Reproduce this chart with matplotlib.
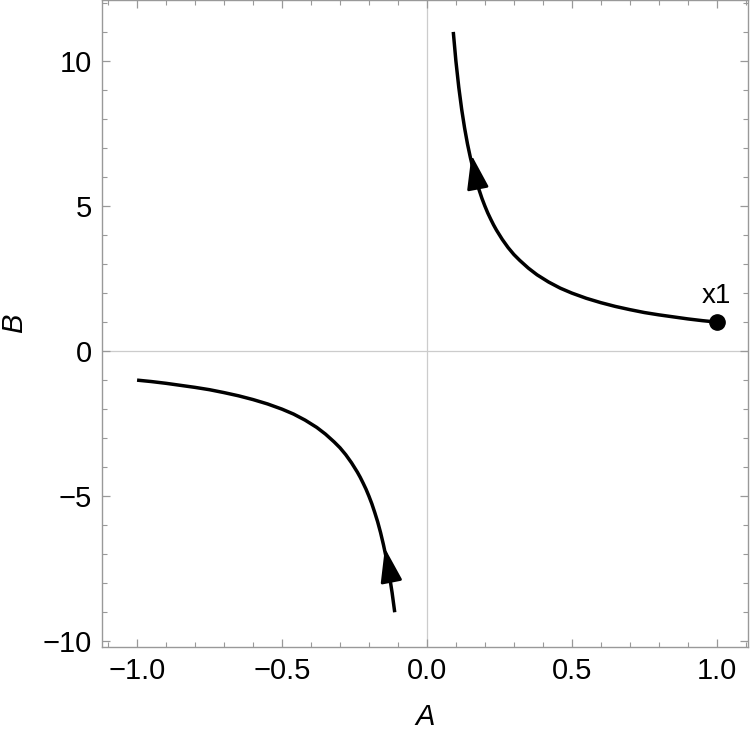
import matplotlib
matplotlib.use("Agg")
import matplotlib.pyplot as plt
from matplotlib.ticker import MultipleLocator, FuncFormatter

plt.rcParams['font.family'] = ['Liberation Sans', 'DejaVu Sans']

# Upper branch
upper_A = [1.0, 0.95, 0.9, 0.85, 0.8, 0.75, 0.7, 0.65, 0.6, 0.55, 0.5, 0.46, 0.42, 0.38,
           0.35, 0.32, 0.3, 0.28, 0.26, 0.24, 0.23, 0.22, 0.21, 0.2, 0.19, 0.18, 0.17,
           0.16, 0.15, 0.14, 0.13, 0.12, 0.11, 0.1, 0.091]
upper_B = [1.0, 1.05, 1.11, 1.18, 1.25, 1.33, 1.43, 1.54, 1.67, 1.82, 2.0, 2.17, 2.38, 2.63,
           2.86, 3.13, 3.33, 3.57, 3.85, 4.17, 4.35, 4.55, 4.76, 5.0, 5.26, 5.56, 5.88,
           6.25, 6.67, 7.14, 7.69, 8.33, 9.09, 10.0, 11.0]
# Lower branch
lower_A = [-1.0, -0.95, -0.9, -0.85, -0.8, -0.75, -0.7, -0.65, -0.6, -0.55, -0.5, -0.46,
           -0.42, -0.38, -0.35, -0.32, -0.3, -0.28, -0.26, -0.24, -0.23, -0.22, -0.21,
           -0.2, -0.19, -0.18, -0.17, -0.16, -0.15, -0.14, -0.13, -0.12, -0.111]
lower_B = [-1.0, -1.05, -1.11, -1.18, -1.25, -1.33, -1.43, -1.54, -1.67, -1.82, -2.0, -2.17,
           -2.38, -2.63, -2.86, -3.13, -3.33, -3.57, -3.85, -4.17, -4.35, -4.55, -4.76,
           -5.0, -5.26, -5.56, -5.88, -6.25, -6.67, -7.14, -7.69, -8.33, -9.0]
# Arrows: (tail, tip)
arrow_tails = [(0.171, 5.86), (-0.128, -7.66)]
arrow_tips = [(0.154, 6.76), (-0.145, -6.79)]
# Point
point_A, point_B, point_label = 1.0, 1.0, "x1"

fig = plt.figure(figsize=(7.5, 7.32), dpi=100)
ax = fig.add_axes([0.136, 0.116, 0.861, 0.884])

ax.axhline(0, color='#cccccc', lw=0.9, zorder=1)
ax.axvline(0, color='#cccccc', lw=0.9, zorder=1)

ax.plot(upper_A, upper_B, color='black', lw=2.5, solid_capstyle='butt',
        solid_joinstyle='round', zorder=3)
ax.plot(lower_A, lower_B, color='black', lw=2.5, solid_capstyle='butt',
        solid_joinstyle='round', zorder=3)

for tail, tip in zip(arrow_tails, arrow_tips):
    ax.annotate('', xy=tip, xytext=tail,
                arrowprops=dict(arrowstyle='-|>,head_length=1.5,head_width=0.48',
                                mutation_scale=14, color='black', lw=2.0,
                                shrinkA=0, shrinkB=0), zorder=4)

ax.plot([point_A], [point_B], 'o', color='black', markersize=11, zorder=5)
ax.text(point_A, point_B + 0.45, point_label, ha='center', va='bottom', fontsize=20)

ax.set_xlim(-1.121, 1.107)
ax.set_ylim(-10.2, 12.1)

ax.xaxis.set_major_locator(MultipleLocator(0.5))
ax.xaxis.set_minor_locator(MultipleLocator(0.1))
ax.yaxis.set_major_locator(MultipleLocator(5))
ax.yaxis.set_minor_locator(MultipleLocator(1))
ax.xaxis.set_major_formatter(FuncFormatter(lambda v, p: f"{v:.1f}".replace('-', '\u2212')))
ax.yaxis.set_major_formatter(FuncFormatter(lambda v, p: f"{v:.0f}".replace('-', '\u2212')))

for s in ax.spines.values():
    s.set_color('#999999')
    s.set_linewidth(1.0)
ax.tick_params(which='both', direction='in', top=True, right=True, color='#999999',
               labelsize=21, labelcolor='black')
ax.tick_params(which='major', length=6, width=0.9, pad=7)
ax.tick_params(which='minor', length=3.5, width=0.8)

ax.set_xlabel('A', fontsize=21, style='italic', labelpad=13)
ax.set_ylabel('B', fontsize=21, style='italic', labelpad=11)

fig.savefig('out.png', dpi=100)
